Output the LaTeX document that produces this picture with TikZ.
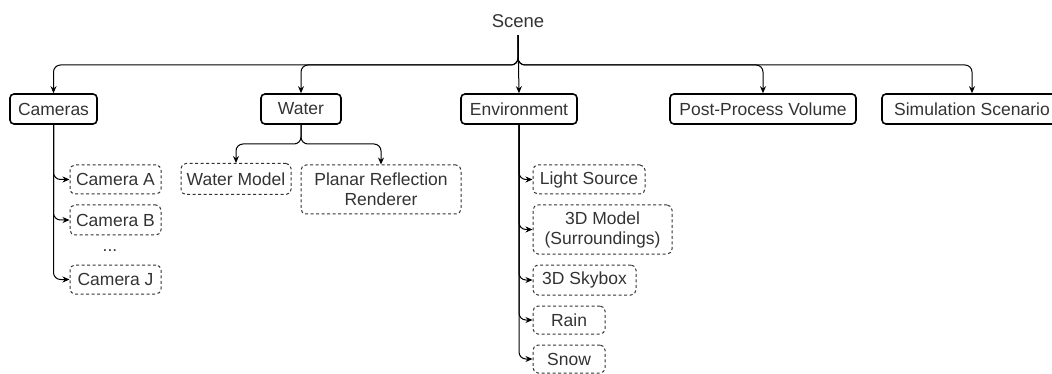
\documentclass[tikz,border=0pt]{standalone}
\usepackage{fontspec}
\setmainfont{Liberation Sans}
\usetikzlibrary{arrows.meta}
\begin{document}
\begin{tikzpicture}[x=1pt,y=-1pt,
  every node/.style={font=\fontsize{17.5}{20}\selectfont, text=black!80,
    inner sep=0pt, align=center},
  group/.style={draw=black, line width=1.6pt, rounded corners=4pt, minimum height=30pt},
  item/.style={draw=black!80, line width=1pt, dash pattern=on 3pt off 2.5pt,
    rounded corners=5pt},
  link/.style={draw=black, line width=1pt, rounded corners=7pt,
    -{Stealth[length=7pt,width=6pt]}},
]
\useasboundingbox (0,0) rectangle (1052,374);

% root
\node[font=\fontsize{18.5}{20}\selectfont, minimum height=28pt] (scene) at (518,21) {Scene};
\coordinate (bus) at (518,65);

% first level
\node[group, minimum width=87pt]  (cam)   at (53.5,109) {Cameras};
\node[group, minimum width=80pt]  (water) at (301,109)  {Water};
\node[group, minimum width=116pt] (env)   at (519,109)  {Environment};
\node[group, minimum width=186pt] (post)  at (763,109)  {Post-Process Volume};
\node[group, minimum width=180pt] (sim)   at (972,109)  {Simulation Scenario};

\draw[link] (scene.south) -- (bus) -| (cam.north);
\draw[link] (scene.south) -- (bus) -| (water.north);
\draw[link] (scene.south) -- (env.north);
\draw[link] (scene.south) -- (bus) -| (post.north);
\draw[link] (scene.south) -- (bus) -| (sim.north);

% cameras
\node[item, minimum width=91pt, minimum height=29pt] (ca) at (115.5,179.5) {Camera A};
\node[item, minimum width=91pt, minimum height=30pt] (cb) at (115.5,220)   {Camera B};
\node (dots) at (110,251) {...};
\node[item, minimum width=91pt, minimum height=29pt] (cj) at (115.5,279.5) {Camera J};
\draw[link] (cam.south) |- (ca.west);
\draw[link] (cam.south) |- (cb.west);
\draw[link] (cam.south) |- (cj.west);

% water
\coordinate (wbus) at (301,144);
\node[item, minimum width=110pt, minimum height=31pt] (wm) at (236,179) {Water Model};
\node[item, minimum width=160pt, minimum height=49pt] (pr) at (381,189.5) {Planar Reflection\\Renderer};
\draw[link] (water.south) -- (wbus) -| (wm.north);
\draw[link] (water.south) -- (wbus) -| (pr.north);

% environment
\node[item, minimum width=112pt, minimum height=29pt] (ls)   at (589,179.5)   {Light Source};
\node[item, minimum width=139pt, minimum height=49pt] (surr) at (602.5,229.5) {3D Model\\(Surroundings)};
\node[item, minimum width=103pt, minimum height=30pt] (sky)  at (584.5,280)   {3D Skybox};
\node[item, minimum width=72pt,  minimum height=28pt] (rain) at (569,320)     {Rain};
\node[item, minimum width=72pt,  minimum height=28pt] (snow) at (569,359)     {Snow};
\draw[link] (env.south) |- (ls.west);
\draw[link] (env.south) |- (surr.west);
\draw[link] (env.south) |- (sky.west);
\draw[link] (env.south) |- (rain.west);
\draw[link] (env.south) |- (snow.west);
\end{tikzpicture}
\end{document}
